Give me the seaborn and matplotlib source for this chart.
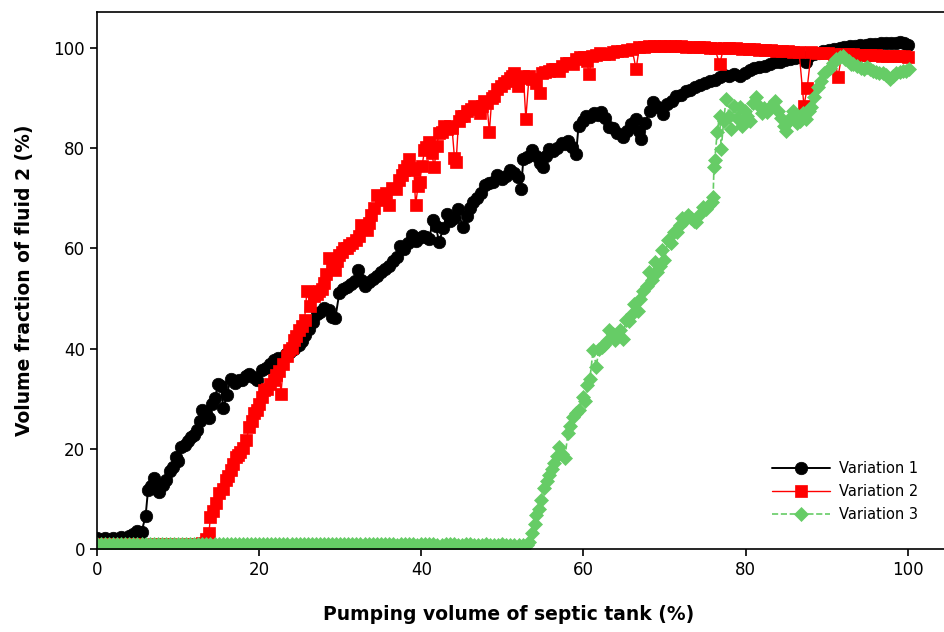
import matplotlib
matplotlib.use('Agg')
import matplotlib.pyplot as plt
import numpy as np
import pandas as pd
import seaborn as sns

# --- Dados ---
x_var1 = [0, 1, 2, 3, 4, 4.5, 5.0, 5.5, 6.0, 6.3, 6.7, 7.0, 7.3, 7.7, 8.1, 8.5, 9.0, 9.4, 9.7, 10.0,
          10.4, 10.8, 11.2, 11.6, 12.0, 12.4, 12.7, 13.0, 13.4, 13.8, 14.2, 14.6, 14.9, 15.3, 15.6, 16.0,
          16.5, 17.0, 17.5, 17.9, 18.4, 18.8, 19.3, 19.8, 20.3, 20.8, 21.3, 21.8, 22.3, 22.8, 23.3, 23.8,
          24.3, 24.9, 25.3, 25.7, 26.2, 26.7, 27.1, 27.5, 28.0, 28.6, 29.0, 29.4, 29.9, 30.4, 30.9, 31.3,
          31.8, 32.2, 32.6, 33.0, 33.5, 34.0, 34.5, 35.0, 35.5, 36.0, 36.5, 37.0, 37.4, 37.9, 38.4, 38.8,
          39.3, 39.7, 40.2, 40.6, 41.0, 41.4, 41.8, 42.2, 42.7, 43.2, 43.6, 44.0, 44.5, 45.1, 45.6, 46.0,
          46.4, 46.9, 47.4, 47.9, 48.4, 48.9, 49.4, 49.9, 50.4, 50.9, 51.4, 51.9, 52.3, 52.6, 53.1, 53.7,
          54.2, 54.6, 55.0, 55.4, 55.8, 56.3, 56.8, 57.3, 57.7, 58.1, 58.6, 59.1, 59.4, 59.9, 60.3, 60.8,
          61.3, 61.8, 62.2, 62.7, 63.2, 63.7, 64.2, 64.9, 65.4, 65.9, 66.5, 66.8, 67.1, 67.6, 68.2, 68.6,
          69.2, 69.8, 70.3, 70.9, 71.4, 72.0, 72.6, 73.2, 73.8, 74.4, 75.0, 75.6, 76.2, 76.8, 77.4, 78.0,
          78.6, 79.3, 79.9, 80.5, 81.1, 81.7, 82.4, 83.0, 83.6, 84.2, 84.9, 85.5, 86.1, 86.7, 87.1, 87.4,
          87.8, 88.4, 89.0, 89.6, 90.3, 90.9, 91.6, 92.2, 92.9, 93.5, 94.1, 94.8, 95.4, 96.0, 96.7, 97.3,
          97.9, 98.5, 99.1, 99.6, 100.0]
y_var1 = [2.2, 2.2, 2.2, 2.3, 2.5, 3.0, 3.6, 3.4, 6.6, 11.8, 12.5, 14.1, 12.0, 11.4, 12.8, 13.8, 15.5, 16.4, 18.4, 17.6,
          20.4, 20.8, 21.5, 22.4, 22.8, 23.7, 25.5, 27.7, 27.2, 26.1, 29.0, 30.2, 33.0, 32.6, 28.1, 30.7,
          34.0, 33.2, 33.8, 33.7, 34.6, 35.0, 34.4, 33.7, 35.8, 36.2, 36.9, 37.7, 38.2, 37.9, 39.0, 39.4,
          40.0, 40.7, 41.5, 42.7, 44.0, 45.3, 47.0, 47.4, 48.1, 47.7, 46.3, 46.1, 51.2, 52.0, 52.4, 53.0,
          53.5, 55.6, 53.8, 52.6, 53.4, 54.0, 54.5, 55.3, 55.9, 56.5, 57.5, 58.3, 60.4, 59.8, 61.0, 62.6,
          61.4, 62.0, 62.5, 62.3, 61.8, 65.6, 64.4, 61.3, 64.0, 66.9, 65.5, 66.0, 67.9, 64.3, 66.5, 68.0,
          69.3, 70.0, 71.0, 72.6, 73.0, 73.3, 74.6, 73.8, 74.5, 75.6, 75.0, 74.2, 71.9, 77.9, 78.2, 79.6,
          78.4, 77.0, 76.2, 78.5, 79.9, 79.5, 80.0, 81.0, 80.9, 81.5, 80.2, 78.9, 84.5, 85.5, 86.5, 86.2,
          87.0, 86.7, 87.2, 86.0, 84.2, 84.0, 83.0, 82.2, 83.5, 84.8, 85.9, 83.5, 81.9, 85.0, 87.5, 89.2,
          88.2, 86.9, 88.9, 89.5, 90.5, 90.6, 91.4, 91.6, 92.3, 92.6, 93.1, 93.5, 93.6, 94.2, 94.6, 94.4,
          94.8, 94.4, 95.0, 95.6, 96.0, 96.2, 96.5, 96.9, 97.2, 97.3, 97.6, 97.9, 98.1, 98.2, 98.0, 97.2,
          98.5, 98.8, 99.1, 99.4, 99.6, 99.9, 100.1, 100.2, 100.4, 100.5, 100.6, 100.7, 100.8, 100.9, 101.0, 101.0,
          101.1, 101.1, 101.2, 101.0, 100.7]

x_var2 = [0, 1, 2, 3, 4, 5, 6, 7, 8, 9, 10, 11, 12, 13.0, 13.5, 13.8, 14.0, 14.3, 14.65, 15.1, 15.5, 15.9,
          16.2, 16.5, 16.8, 17.1, 17.4, 17.7, 18.0, 18.4, 18.8, 19.1, 19.4, 19.7, 20.0, 20.3, 20.6, 21.0,
          21.4, 21.8, 22.1, 22.5, 22.7, 23.0, 23.4, 23.7, 24.0, 24.3, 24.6, 24.9, 25.3, 25.6, 25.9, 26.3,
          26.8, 27.1, 27.4, 27.7, 28.0, 28.3, 28.6, 29.0, 29.3, 29.6, 29.9, 30.2, 30.5, 30.8, 31.1, 31.5,
          32.0, 32.3, 32.6, 33.0, 33.3, 33.6, 33.8, 34.2, 34.6, 35.0, 35.4, 35.7, 36.0, 36.4, 36.9, 37.3,
          37.6, 37.9, 38.2, 38.5, 38.8, 39.1, 39.3, 39.6, 39.8, 40.1, 40.4, 40.6, 41.0, 41.3, 41.6, 41.9,
          42.2, 42.5, 42.8, 43.2, 43.5, 43.8, 44.1, 44.3, 44.6, 44.9, 45.3, 45.7, 46.1, 46.5, 46.8, 47.2,
          47.5, 47.8, 48.1, 48.4, 48.7, 49.0, 49.4, 49.8, 50.2, 50.6, 50.9, 51.2, 51.5, 51.9, 52.3, 52.6,
          52.9, 53.3, 53.7, 54.2, 54.6, 54.9, 55.3, 55.7, 56.1, 56.5, 57.0, 57.4, 57.8, 58.2, 58.7, 59.1,
          59.6, 60.1, 60.4, 60.7, 61.1, 61.6, 62.1, 62.6, 63.2, 63.7, 64.2, 64.8, 65.4, 66.0, 66.5, 66.9,
          67.5, 68.1, 68.7, 69.4, 70.0, 70.7, 71.3, 72.0, 72.7, 73.5, 74.2, 74.9, 75.6, 76.2, 76.8, 77.3,
          78.0, 78.8, 79.6, 80.4, 81.1, 81.7, 82.4, 83.1, 83.8, 84.5, 85.2, 85.9, 86.6, 87.2, 87.6, 88.1,
          88.8, 89.5, 90.2, 90.9, 91.4, 91.9, 92.6, 93.3, 94.0, 94.7, 95.4, 96.1, 96.8, 97.5, 98.2, 98.9,
          99.5, 100.0]
y_var2 = [1.0, 1.0, 1.0, 0.9, 1.0, 1.0, 0.9, 1.0, 1.0, 1.0, 0.9, 1.0, 1.0, 1.2, 2.0, 3.1, 6.4, 7.5, 9.1, 11.1, 12.0, 13.8,
          14.5, 15.8, 17.0, 18.4, 18.7, 19.4, 20.2, 21.7, 24.4, 25.5, 27.1, 27.8, 29.0, 30.4, 31.7, 32.0,
          33.0, 33.8, 34.7, 35.5, 31.0, 37.0, 38.6, 39.7, 40.2, 41.7, 42.5, 43.7, 44.5, 45.7, 51.6, 48.5,
          50.6, 51.0, 51.6, 52.0, 53.2, 55.0, 58.0, 57.3, 55.6, 57.5, 58.6, 59.2, 60.0, 60.0, 60.6, 61.0,
          61.6, 62.5, 64.6, 64.0, 63.6, 65.0, 66.6, 68.0, 70.6, 70.2, 69.6, 71.0, 68.6, 72.0, 71.9, 73.6,
          74.6, 75.6, 76.5, 77.8, 76.0, 75.6, 68.6, 72.5, 73.2, 76.5, 79.6, 80.2, 81.2, 79.0, 76.2, 80.5,
          83.0, 83.2, 84.5, 83.9, 84.5, 84.0, 78.0, 77.2, 85.5, 86.5, 86.5, 87.5, 87.9, 88.5, 88.2, 87.1,
          88.5, 89.5, 89.0, 83.2, 90.0, 90.5, 91.9, 92.5, 93.1, 93.5, 94.1, 94.5, 95.1, 92.5, 94.1, 94.5,
          85.9, 94.5, 93.8, 93.1, 91.1, 95.1, 95.3, 95.4, 95.8, 95.9, 95.5, 96.5, 97.1, 97.0, 96.8, 97.9,
          98.2, 98.3, 97.5, 94.9, 98.5, 98.6, 99.0, 98.9, 98.8, 99.2, 99.5, 99.4, 99.6, 99.8, 95.8, 100.2,
          100.3, 100.4, 100.4, 100.5, 100.5, 100.4, 100.5, 100.4, 100.3, 100.2, 100.3, 100.2, 100.1, 100.0, 96.8, 100.0,
          100.1, 100.0, 99.9, 99.8, 99.8, 99.7, 99.6, 99.6, 99.5, 99.4, 99.4, 99.3, 99.3, 88.5, 92.0, 99.2,
          99.1, 99.1, 99.0, 98.9, 94.2, 98.9, 98.8, 98.8, 98.7, 98.7, 98.6, 98.6, 98.5, 98.5, 98.5, 98.4,
          98.4, 98.3]

x_var3 = [0, 0.5, 1, 1.5, 2, 2.5, 3, 3.5, 4, 4.5, 5, 5.5, 6, 6.5, 7, 7.5, 8, 8.5, 9, 9.5, 10, 10.5,
          11, 11.5, 12, 12.5, 13, 13.5, 14, 14.5, 15, 15.5, 16, 16.5, 17, 17.5, 18, 18.5, 19, 19.5, 20, 20.5,
          21, 21.5, 22, 22.5, 23, 23.5, 24, 24.5, 25, 25.5, 26, 26.5, 27, 27.5, 28, 28.5, 29, 29.5, 30, 30.5,
          31, 31.5, 32, 32.5, 33, 33.5, 34, 34.5, 35, 35.5, 36, 36.5, 37, 37.5, 38, 38.5, 39, 39.5, 40, 40.5,
          41, 41.5, 42, 42.5, 43, 43.5, 44, 44.5, 45, 45.5, 46, 46.5, 47, 47.5, 48, 48.5, 49, 49.5, 50, 50.5,
          51, 51.5, 52, 52.5, 53.0, 53.3, 53.7, 54.0, 54.2, 54.5, 54.8, 55.2, 55.5, 55.8, 56.1, 56.4, 56.7, 57.0,
          57.4, 57.7, 58.1, 58.4, 58.7, 59.1, 59.5, 59.9, 60.2, 60.5, 60.8, 61.2, 61.6, 61.9, 62.3, 62.6,
          62.9, 63.2, 63.6, 63.9, 64.2, 64.5, 64.9, 65.2, 65.6, 66.0, 66.3, 66.7, 67.0, 67.4, 67.8, 68.1,
          68.4, 68.8, 69.1, 69.4, 69.7, 70.0, 70.4, 70.8, 71.2, 71.6, 71.9, 72.2, 72.5, 72.9, 73.3, 73.6,
          73.9, 74.3, 74.7, 75.1, 75.5, 75.8, 76.0, 76.1, 76.2, 76.5, 76.8, 77.0, 77.3, 77.6, 78.0, 78.2,
          78.6, 79.0, 79.3, 79.6, 79.9, 80.2, 80.5, 80.9, 81.3, 81.7, 82.0, 82.3, 82.7, 83.0, 83.3, 83.6,
          84.0, 84.4, 84.7, 85.0, 85.4, 85.7, 85.9, 86.3, 86.7, 87.1, 87.5, 87.8, 88.1, 88.5, 88.9, 89.3,
          89.7, 90.1, 90.4, 90.8, 91.2, 91.6, 92.0, 92.3, 92.7, 93.0, 93.3, 93.8, 94.2, 94.6, 95.0, 95.4,
          95.7, 96.1, 96.5, 96.9, 97.3, 97.8, 98.2, 98.6, 99.0, 99.4, 99.8, 100.2]
y_var3 = [1.1, 1.1, 1.1, 1.0, 1.0, 1.1, 1.1, 1.0, 1.0, 1.1, 1.1, 1.1, 1.1, 1.0, 1.0, 1.1, 1.1, 1.0, 1.0, 1.0, 1.1, 1.0,
          1.0, 1.1, 1.0, 1.0, 1.1, 1.0, 1.0, 1.0, 1.0, 1.1, 1.1, 1.0, 1.0, 1.0, 1.0, 1.1, 1.1, 1.0, 1.0, 1.0,
          1.0, 1.0, 1.0, 1.1, 1.1, 1.0, 1.0, 1.0, 1.0, 1.0, 1.0, 1.0, 1.1, 1.0, 1.0, 1.0, 1.0, 1.0, 1.0, 1.0,
          1.1, 1.0, 1.0, 1.0, 1.0, 1.0, 1.0, 1.0, 1.1, 1.0, 1.0, 1.0, 0.9, 1.0, 1.0, 1.0, 1.0, 0.9, 1.0, 1.0,
          1.0, 1.0, 0.9, 0.9, 1.0, 1.0, 1.0, 0.9, 0.9, 1.0, 1.0, 0.9, 0.9, 0.9, 1.0, 0.9, 0.9, 0.9, 1.0, 0.9,
          0.9, 0.9, 0.9, 0.9, 0.8, 1.5, 3.1, 5.0, 6.8, 8.0, 9.8, 12.1, 13.5, 14.8, 16.0, 17.1, 18.5, 20.4,
          19.0, 18.1, 23.1, 24.5, 26.4, 27.2, 27.7, 30.4, 29.5, 32.7, 34.0, 39.7, 36.4, 40.0, 40.3, 40.7,
          41.5, 43.7, 43.0, 41.7, 43.0, 43.8, 42.0, 45.7, 45.5, 47.0, 49.0, 47.6, 50.0, 51.5, 52.6, 55.2,
          53.8, 57.2, 55.3, 56.5, 59.6, 57.6, 61.6, 61.0, 63.2, 63.3, 64.6, 66.0, 65.6, 66.6, 66.0, 65.4,
          65.3, 66.6, 68.3, 67.8, 68.6, 69.3, 70.2, 76.2, 77.6, 83.2, 86.5, 79.9, 85.5, 89.9, 86.5, 83.9,
          88.5, 86.0, 88.2, 84.5, 87.5, 86.5, 85.5, 89.0, 90.2, 88.5, 87.0, 88.0, 87.3, 88.2, 88.6, 89.5,
          87.5, 86.0, 84.5, 83.5, 85.5, 86.5, 87.5, 85.1, 85.5, 87.1, 85.9, 87.5, 88.2, 90.2, 92.2, 93.5,
          95.1, 95.5, 96.0, 97.1, 97.8, 98.3, 98.5, 97.8, 97.4, 96.8, 96.8, 96.5, 96.0, 95.9, 96.3, 95.8,
          95.5, 95.3, 95.1, 95.0, 94.6, 93.9, 94.5, 95.0, 95.3, 95.5, 95.5, 95.9]

labels = ['Variation 1', 'Variation 2', 'Variation 3']
cores = ['#000000', '#ff0000', '#66cc66']

# --- Figura ---
sns.set_style('ticks')
plt.rcParams['font.family'] = ['DejaVu Sans']
plt.rcParams['text.color'] = 'black'
plt.rcParams['axes.labelcolor'] = 'black'
plt.rcParams['xtick.color'] = 'black'
plt.rcParams['ytick.color'] = 'black'

fig = plt.figure(figsize=(9.45, 6.32), dpi=100)
ax = fig.add_axes([0.1026, 0.1313, 0.8974, 0.8497])

sns.lineplot(x=x_var1, y=y_var1, ax=ax, sort=False, color=cores[0], lw=1.4,
             marker='o', markersize=9, markeredgecolor=cores[0], markeredgewidth=0.5,
             label=labels[0])
sns.lineplot(x=x_var2, y=y_var2, ax=ax, sort=False, color=cores[1], lw=1.0,
             marker='s', markersize=8, markeredgecolor=cores[1], markeredgewidth=0.5,
             label=labels[1])
sns.lineplot(x=x_var3, y=y_var3, ax=ax, sort=False, color=cores[2], lw=1.2, linestyle='--',
             marker='D', markersize=7.5, markeredgecolor=cores[2], markeredgewidth=0.5,
             label=labels[2])

ax.set_xlim(0, 104.6)
ax.set_ylim(0, 107.2)
ax.set_xticks([0, 20, 40, 60, 80, 100])
ax.set_yticks([0, 20, 40, 60, 80, 100])
ax.tick_params(direction='out', length=5, width=1.2, labelsize=12, color='black', labelcolor='black')

for lado in ['left', 'bottom', 'top']:
    ax.spines[lado].set_visible(True)
    ax.spines[lado].set_linewidth(1.2)
    ax.spines[lado].set_color('black')
ax.spines['right'].set_visible(False)

ax.set_xlabel('Pumping volume of septic tank (%)', fontsize=13.5, fontweight='bold', labelpad=14)
ax.set_ylabel('Volume fraction of fluid 2 (%)', fontsize=13.5, fontweight='bold', labelpad=14)
ax.xaxis.set_label_coords(0.485, -0.105)

leg = ax.legend(loc='lower right', bbox_to_anchor=(0.975, 0.04), frameon=False, fontsize=10.5,
                handlelength=4.0, handletextpad=0.6, labelspacing=0.55, borderaxespad=0)

fig.savefig('out.png', dpi=100)
plt.close(fig)
